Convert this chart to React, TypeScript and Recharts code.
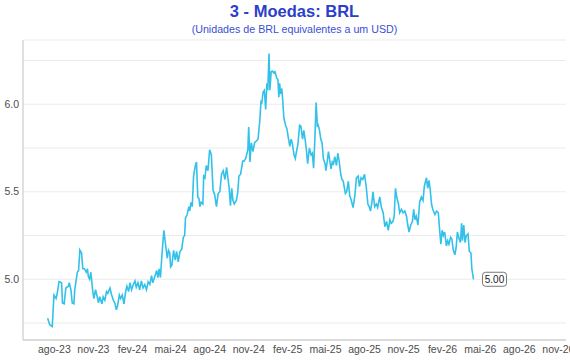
import React from 'react';
import { LineChart, Line, XAxis, YAxis, CartesianGrid } from 'recharts';

// Days counted from START_DATE (2023-08-01)
const START_DATE = Date.UTC(2023, 7, 1);

const dayOffsets = [
  -16, -11, -5, -1, 4, 6, 11, 17, 19, 23, 27, 33, 35, 39, 42, 46, 48, 54, 57, 60,
  64, 67, 71, 75, 78, 80, 83, 86, 90, 93, 97, 101, 104, 107, 112, 115, 119, 123, 126, 131,
  135, 139, 143, 146, 149, 153, 156, 160, 164, 168, 171, 175, 178, 182, 186, 190, 193, 197, 201, 205,
  209, 213, 217, 221, 225, 229, 232, 236, 241, 244, 247, 250, 253, 258, 262, 266, 269, 272, 274, 277,
  281, 285, 288, 292, 296, 300, 304, 307, 309, 313, 317, 319, 322, 325, 328, 332, 335, 338, 341, 343,
  346, 350, 352, 355, 358, 362, 366, 370, 374, 378, 382, 386, 390, 394, 398, 402, 406, 409, 412, 415,
  418, 421, 424, 429, 432, 435, 439, 444, 447, 451, 456, 458, 461, 464, 468, 472, 476, 480, 484, 487,
  489, 492, 495, 498, 501, 503, 506, 508, 511, 514, 517, 520, 524, 527, 529, 531, 533, 536, 538, 541,
  545, 548, 552, 555, 558, 561, 565, 568, 570, 574, 578, 581, 585, 588, 591, 594, 597, 601, 605, 608,
  611, 614, 617, 620, 622, 625, 628, 631, 634, 638, 640, 643, 646, 649, 652, 655, 658, 661, 665, 668,
  671, 675, 678, 681, 683, 686, 689, 693, 696, 700, 704, 708, 712, 716, 719, 723, 727, 731, 735, 739,
  742, 745, 748, 751, 755, 759, 762, 767, 771, 775, 779, 783, 787, 791, 794, 798, 801, 804, 807, 811,
  814, 818, 822, 826, 830, 833, 836, 840, 844, 847, 850, 853, 857, 861, 865, 869, 872, 877, 880, 883,
  886, 889, 892, 897, 901, 905, 908, 911, 914, 917, 920, 924, 927, 930, 934, 937, 940, 944, 947, 950,
  953, 957, 960, 962, 965, 968, 971, 975, 978, 982, 984, 988,
];

const brlValues = [
  4.777, 4.74, 4.73, 4.91, 4.89, 4.91, 4.986, 4.98, 4.865, 4.86, 4.95, 4.96, 4.98, 4.94, 4.865, 4.86, 4.94, 5.04, 5.05, 5.167,
  5.15, 5.06, 5.06, 5.04, 5.06, 5.015, 5.0, 5.04, 4.94, 4.89, 4.94, 4.9, 4.865, 4.9, 4.86, 4.9, 4.88, 4.93, 4.92, 4.95,
  4.91, 4.88, 4.86, 4.825, 4.85, 4.91, 4.89, 4.91, 4.86, 4.93, 4.96, 4.93, 4.98, 4.94, 4.97, 4.99, 4.955, 4.98, 4.94, 4.99,
  4.95, 4.97, 4.94, 4.985, 4.97, 5.02, 4.98, 5.01, 5.05, 5.01, 5.06, 5.01, 5.12, 5.28, 5.2, 5.12, 5.165, 5.15, 5.07, 5.08,
  5.165, 5.11, 5.16, 5.1, 5.16, 5.17, 5.24, 5.25, 5.35, 5.37, 5.415, 5.39, 5.44, 5.415, 5.586, 5.647, 5.67, 5.47, 5.46, 5.415,
  5.44, 5.43, 5.59, 5.58, 5.65, 5.62, 5.74, 5.71, 5.51, 5.48, 5.415, 5.49, 5.5, 5.6, 5.62, 5.57, 5.64, 5.58, 5.52, 5.42,
  5.52, 5.45, 5.43, 5.45, 5.49, 5.59, 5.6, 5.675, 5.675, 5.69, 5.74, 5.87, 5.67, 5.78, 5.73, 5.78, 5.79, 5.8, 5.9, 6.015,
  6.01, 6.07, 6.08, 5.97, 6.12, 6.08, 6.29, 6.08, 6.186, 6.19, 6.18, 6.186, 6.15, 6.14, 6.04, 6.12, 6.06, 6.09, 6.03, 5.92,
  5.88, 5.86, 5.8, 5.76, 5.8, 5.775, 5.71, 5.69, 5.72, 5.77, 5.88, 5.876, 5.8, 5.85, 5.8, 5.74, 5.66, 5.75, 5.71, 5.72,
  5.634, 5.8, 6.01, 5.87, 5.88, 5.85, 5.8, 5.78, 5.69, 5.66, 5.62, 5.67, 5.73, 5.68, 5.63, 5.67, 5.66, 5.7, 5.65, 5.72,
  5.68, 5.6, 5.57, 5.56, 5.53, 5.49, 5.5, 5.56, 5.48, 5.45, 5.41, 5.47, 5.58, 5.59, 5.53, 5.58, 5.57, 5.6, 5.53, 5.43,
  5.415, 5.39, 5.43, 5.5, 5.415, 5.43, 5.41, 5.47, 5.41, 5.38, 5.3, 5.33, 5.28, 5.34, 5.32, 5.33, 5.36, 5.52, 5.47, 5.43,
  5.38, 5.4, 5.38, 5.39, 5.36, 5.31, 5.27, 5.31, 5.33, 5.4, 5.34, 5.36, 5.31, 5.44, 5.47, 5.45, 5.53, 5.58, 5.52, 5.565,
  5.51, 5.43, 5.4, 5.37, 5.39, 5.38, 5.285, 5.2, 5.28, 5.25, 5.27, 5.19, 5.22, 5.2, 5.24, 5.23, 5.17, 5.14, 5.18, 5.27,
  5.24, 5.21, 5.32, 5.22, 5.31, 5.21, 5.25, 5.26, 5.16, 5.15, 5.06, 5.0,
];

const xTickLabels = [
  'ago-23', 'nov-23', 'fev-24', 'mai-24', 'ago-24', 'nov-24', 'fev-25',
  'mai-25', 'ago-25', 'nov-25', 'fev-26', 'mai-26', 'ago-26', 'nov-26',
];

const yTicks = [4.75, 5.0, 5.25, 5.5, 5.75, 6.0, 6.25];

const TITLE = '3 - Moedas: BRL';
const SUBTITLE = '(Unidades de BRL equivalentes a um USD)';

const MONTHS: Record<string, number> = {
  jan: 0, fev: 1, mar: 2, abr: 3, mai: 4, jun: 5, jul: 6, ago: 7, set: 8, out: 9, nov: 10, dez: 11,
};

const xTickPositions = xTickLabels.map((lab) => {
  const [m, yy] = lab.split('-');
  return Math.round((Date.UTC(2000 + Number(yy), MONTHS[m], 1) - START_DATE) / 86400000);
});

const data = dayOffsets.map((d, i) => ({ d, v: brlValues[i] }));

const FONT = '"Liberation Sans", Arial, Helvetica, sans-serif';

const EndLabel = (props: any) => {
  const { x, y, index, value } = props;
  if (index !== data.length - 1) return null;
  return (
    <g>
      <rect x={x + 9} y={y - 7} width={24} height={14} rx={3} ry={3} fill="#ffffff" stroke="#555555" strokeWidth={0.8} />
      <text x={x + 21} y={y} dy="0.36em" textAnchor="middle" fontSize={10} fontFamily={FONT} fill="#222222">
        {Number(value).toFixed(2)}
      </text>
    </g>
  );
};

export default function App() {
  return (
    <div style={{ position: 'absolute', left: 0, top: 0, width: 570, height: 360, background: '#fff', fontFamily: FONT }}>
      <div style={{ position: 'absolute', left: 23, width: 543, top: 2, textAlign: 'center', fontSize: 16.5, lineHeight: '19px', fontWeight: 'bold', color: '#2b3fc9' }}>
        {TITLE}
      </div>
      <div style={{ position: 'absolute', left: 23, width: 543, top: 23, textAlign: 'center', fontSize: 10.7, lineHeight: '13px', color: '#3b4fd4' }}>
        {SUBTITLE}
      </div>
      <LineChart width={570} height={360} data={data} margin={{ top: 40, right: 4, bottom: 0, left: 0 }}>
        <CartesianGrid vertical={false} stroke="#ebebeb" strokeWidth={1} />
        <XAxis
          type="number"
          dataKey="d"
          domain={[-74, 1206]}
          allowDataOverflow
          ticks={xTickPositions}
          interval={0}
          tickFormatter={(v: number) => xTickLabels[xTickPositions.indexOf(v)] ?? ''}
          tickLine={false}
          tickSize={4}
          tickMargin={2}
          height={20}
          axisLine={{ stroke: '#d0d0d0', strokeWidth: 1.3 }}
          tick={{ fontSize: 10.5, fill: '#4d4d4d', fontFamily: FONT }}
        />
        <YAxis
          type="number"
          domain={[4.653, 6.367]}
          allowDataOverflow
          ticks={yTicks}
          interval={0}
          tickFormatter={(v: number) => (Math.abs(v * 2 - Math.round(v * 2)) < 1e-6 ? v.toFixed(1) : '')}
          tickLine={false}
          tickSize={2}
          tickMargin={2}
          width={23}
          axisLine={{ stroke: '#d0d0d0', strokeWidth: 1.3 }}
          tick={{ fontSize: 10.5, fill: '#4d4d4d', fontFamily: FONT }}
        />
        <Line
          type="linear"
          dataKey="v"
          stroke="#33c1ea"
          strokeWidth={1.6}
          dot={false}
          isAnimationActive={false}
          label={<EndLabel />}
        />
      </LineChart>
    </div>
  );
}
